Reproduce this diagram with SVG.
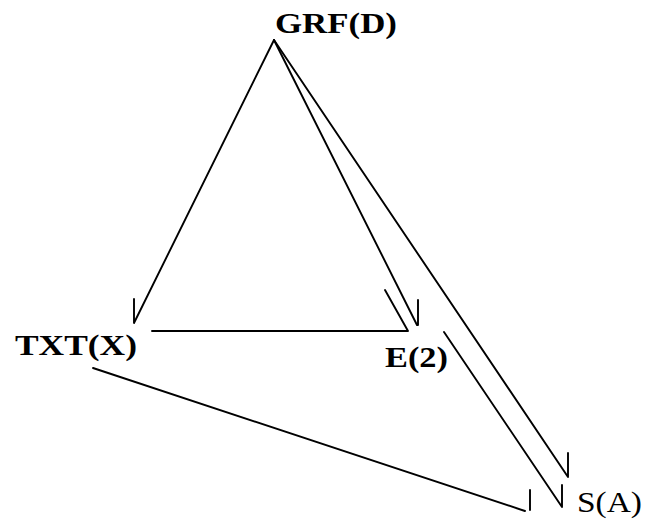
<svg xmlns="http://www.w3.org/2000/svg" width="654" height="519" viewBox="0 0 654 519">
<style>
.bg{fill:#fff}
.lbl{font-family:"Liberation Serif","DejaVu Serif",serif;font-size:30px;fill:#000}
.b{font-weight:bold}
.c{fill:none;stroke:#000;stroke-width:1.9;stroke-linecap:round;stroke-linejoin:round}
</style>
<rect class="bg" x="0" y="0" width="654" height="519"/>
<g id="connectors">
<path id="grf-txt" class="c" d="M274,40 L134,323 L134,299"/>
<path id="grf-e2" class="c" d="M274,40 L417,325 M418,325 L418,300"/>
<path id="grf-sa" class="c" d="M274,40 L568,477 L568,453"/>
<path id="txt-e2" class="c" d="M152,331 L408,331 L385,290"/>
<path id="e2-sa" class="c" d="M444,332 L562,507 L562,485"/>
<path id="txt-sa" class="c" d="M93,368 L525,511 M530,510 L530,490"/>
</g>
<g id="node-grf"><text class="lbl b" x="275" y="33" textLength="122" lengthAdjust="spacingAndGlyphs">GRF(D)</text></g>
<g id="node-txt"><text class="lbl b" x="15" y="355" textLength="122" lengthAdjust="spacingAndGlyphs">TXT(X)</text></g>
<g id="node-e2"><text class="lbl b" x="385" y="367" textLength="63" lengthAdjust="spacingAndGlyphs">E(2)</text></g>
<g id="node-sa"><text class="lbl" x="577" y="512" textLength="65" lengthAdjust="spacingAndGlyphs">S(A)</text></g>
</svg>
